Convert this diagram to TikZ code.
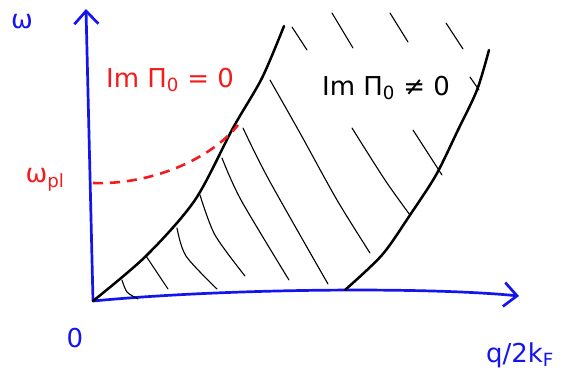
\documentclass[tikz,border=0pt]{standalone}
\usepackage{fontspec}
\setmainfont{DejaVu Sans}
\usetikzlibrary{arrows.meta}

\definecolor{axisblue} {HTML}{1414EE}
\definecolor{plred}    {HTML}{F21C1C}

\begin{document}
\begin{tikzpicture}[x=1pt,y=-1pt,
  axis/.style={draw=axisblue, line width=2.7pt, line cap=round, line join=round,
    -{Straight Barb[length=13pt,width=24pt,line width=2.7pt]}},
  edgeline/.style={draw=black, line width=2.5pt, line cap=round},
  hatch/.style={draw=black, line width=1.1pt, line cap=round},
  lbl/.style={font=\fontsize{26}{30}\selectfont, inner sep=0pt}]
\useasboundingbox (0,0) rectangle (571,376);

%% -- axes ------------------------------------------------------------
\coordinate (O)    at (93,301);
\coordinate (ytop) at (86,9);
\coordinate (xend) at (519,296);
\draw[axis] (O) -- (ytop);
\draw[axis] (O) .. controls (230,288) and (430,287) .. (xend);

\node[lbl, text=axisblue] (wlab)  at (22,22)  {ω};
\node[lbl, text=axisblue] (zero)  at (75,338) {0};
\node[lbl, text=axisblue] (qlab)  at (520,355) {q/2k\textsubscript{F}};

%% -- boundaries of the continuum ---------------------------------------
\draw[edgeline] plot[smooth] coordinates
  {(93,301) (146,256) (195,200) (233,128) (262,78) (284,26)};
\draw[edgeline] plot[smooth] coordinates
  {(345,290) (382,255) (410,215) (436,175) (458,130) (477,90) (489,50)};

%% -- hatching --------------------------------------------------------
\draw[hatch] plot[smooth] coordinates {(122,280) (127,292) (138,299)};
\draw[hatch] (146,256) -- (168,289);
\draw[hatch] plot[smooth] coordinates {(177,228) (186,256) (217,289)};
\draw[hatch] plot[smooth] coordinates {(200,195) (215,235) (245,276)};
\draw[hatch] plot[smooth] coordinates {(222,158) (241,200) (289,280)};
\draw[hatch] plot[smooth] coordinates {(243,128) (269,180) (328,284)};
\draw[hatch] plot[smooth] coordinates {(270,80) (300,133) (337,200) (370,253)};
\draw[hatch] plot[smooth] coordinates {(352,128) (385,180) (410,215)};
\draw[hatch] (413,130) -- (442,175);
\draw[hatch] (292,27) -- (307,50);
\draw[hatch] (332,13) -- (353,48);
\draw[hatch] (390,13) -- (408,42);
\draw[hatch] (446,23) -- (463,49);
\draw[hatch] (470,77) -- (479,90);

%% -- plasmon branch ----------------------------------------------------
\coordinate (wpl) at (93,183);
\coordinate (wend) at (238,125);
\draw[plred, line width=2.6pt, dash pattern=on 10pt off 7pt]
  (wpl) .. controls (150,185) and (210,160) .. (wend);
\node[lbl, text=plred] (wpllab) at (45,180) {ω\textsubscript{pl}};

%% -- region labels -----------------------------------------------------
\node[lbl, text=plred] (zeroreg) at (170,80) {Im Π\textsubscript{0} = 0};
\node[lbl]             (nonzero) at (386,88) {Im Π\textsubscript{0} ≠ 0};
\end{tikzpicture}
\end{document}
